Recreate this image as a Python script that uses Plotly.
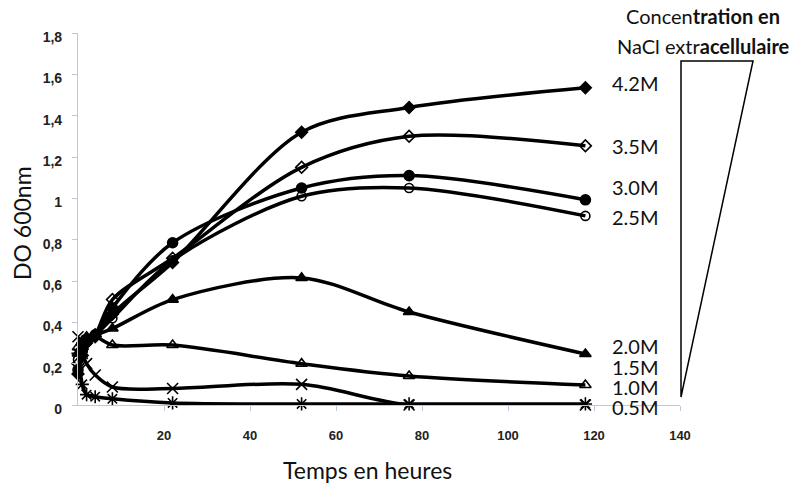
import plotly.graph_objects as go

# Time points (hours)
temps = [0, 1, 2, 4, 8, 22, 52, 77, 118]

# DO 600nm per NaCl concentration
do_42 = [0.15, 0.24, 0.30, 0.33, 0.44, 0.69, 1.32, 1.44, 1.535]
do_35 = [0.20, 0.27, 0.31, 0.34, 0.51, 0.71, 1.15, 1.30, 1.254]
do_30 = [0.17, 0.26, 0.31, 0.34, 0.47, 0.785, 1.05, 1.11, 0.993]
do_25 = [0.22, 0.28, 0.32, 0.34, 0.42, 0.70, 1.01, 1.05, 0.915]
do_20 = [0.25, 0.30, 0.33, 0.34, 0.37, 0.51, 0.615, 0.45, 0.247]
do_15 = [0.28, 0.31, 0.32, 0.33, 0.29, 0.29, 0.20, 0.14, 0.097]
do_10 = [0.33, 0.25, 0.20, 0.145, 0.087, 0.08, 0.10, 0.0, 0.0]
do_05 = [0.25, 0.10, 0.05, 0.04, 0.03, 0.01, 0.005, 0.005, 0.005]

series_names = ["4.2M", "3.5M", "3.0M", "2.5M", "2.0M", "1.5M", "1.0M", "0.5M"]
series_vals = [do_42, do_35, do_30, do_25, do_20, do_15, do_10, do_05]
markers = ["diamond", "diamond-open", "circle", "circle-open",
           "triangle-up", "triangle-up-open", "x-thin-open", "asterisk-open"]
msizes = [9, 9, 10, 9, 10, 10, 11, 11]

# label vertical pixel positions for the concentration labels
label_py = [82, 145, 186, 216, 345, 366, 386, 406]

y_ticks = [0, 0.2, 0.4, 0.6, 0.8, 1.0, 1.2, 1.4, 1.6, 1.8]
y_ticktext = ["0", "0,2", "0,4", "0,6", "0,8", "1", "1,2", "1,4", "1,6", "1,8"]
x_ticks = [20, 40, 60, 80, 100, 120, 140]

W, H = 803, 490
ML, MR, MT, MB = 78, 123, 33, 85
PW, PH = W - ML - MR, H - MT - MB

def px(x):
    return (x - ML) / PW

def py(y):
    return (H - MB - y) / PH

fig = go.Figure()
for name, vals, m, s in zip(series_names, series_vals, markers, msizes):
    fig.add_trace(go.Scatter(
        x=temps, y=vals, name=name, mode="lines+markers",
        line=dict(color="black", width=3.5, shape="spline", smoothing=0.9),
        marker=dict(symbol=m, size=s, color="black",
                    line=dict(color="black", width=1.6)),
        cliponaxis=False,
    ))

annotations = []
for name, yp in zip(series_names, label_py):
    annotations.append(dict(
        x=px(610), xref="paper", y=py(yp), yref="paper", text=name,
        showarrow=False, xanchor="left", yanchor="middle", height=19,
        font=dict(family="Lato", size=20, color="#111"),
    ))

annotations += [
    dict(x=px(703), xref="paper", y=py(16), yref="paper",
         text="Concen<b>tration en</b>", showarrow=False,
         xanchor="center", yanchor="middle",
         font=dict(family="Lato", size=20, color="#111")),
    dict(x=px(703), xref="paper", y=py(46), yref="paper",
         text="NaCl extr<b>acellulaire</b>", showarrow=False,
         xanchor="center", yanchor="middle",
         font=dict(family="Lato", size=20, color="#111")),
    dict(x=px(367), xref="paper", y=py(470), yref="paper",
         text="Temps en heures", showarrow=False,
         xanchor="center", yanchor="middle",
         font=dict(family="Lato", size=23, color="#111")),
    dict(x=px(22), xref="paper", y=py(223), yref="paper",
         text="DO 600nm", showarrow=False, textangle=-90,
         xanchor="center", yanchor="middle",
         font=dict(family="Lato", size=23, color="#111")),
]

shapes = [dict(
    type="path", xref="paper", yref="paper",
    path=f"M {px(681)} {py(61)} L {px(753)} {py(61)} L {px(681)} {py(397)} Z",
    line=dict(color="black", width=1.5), fillcolor="rgba(0,0,0,0)",
)]

fig.update_layout(
    width=W, height=H,
    margin=dict(l=ML, r=MR, t=MT, b=MB, autoexpand=False),
    plot_bgcolor="white", paper_bgcolor="white",
    showlegend=False,
    annotations=annotations,
    shapes=shapes,
    xaxis=dict(
        range=[0, 140], tickvals=x_ticks,
        ticktext=[f"<b>{t}</b>" for t in x_ticks],
        showgrid=False, zeroline=False, automargin=False,
        showline=True, linecolor="#B8CADB", linewidth=1.2,
        ticks="outside", ticklen=5, tickcolor="#B8CADB",
        tickfont=dict(family="Liberation Sans", size=13, color="#222"),
        ticklabelstandoff=13,
    ),
    yaxis=dict(
        range=[0, 1.8], tickvals=y_ticks,
        ticktext=[f"<b>{t}</b>" for t in y_ticktext],
        showgrid=False, zeroline=False, automargin=False,
        showline=True, linecolor="#B8CADB", linewidth=1.2,
        ticks="outside", ticklen=5, tickcolor="#B8CADB",
        tickfont=dict(family="Liberation Sans", size=14, color="#222"),
        ticklabelstandoff=7, ticklabelshift=4,
    ),
)

fig.write_html("out.html",
               config={"displayModeBar": False},
               post_script="document.body.style.margin='0';"
                           "document.body.style.padding='0';")
